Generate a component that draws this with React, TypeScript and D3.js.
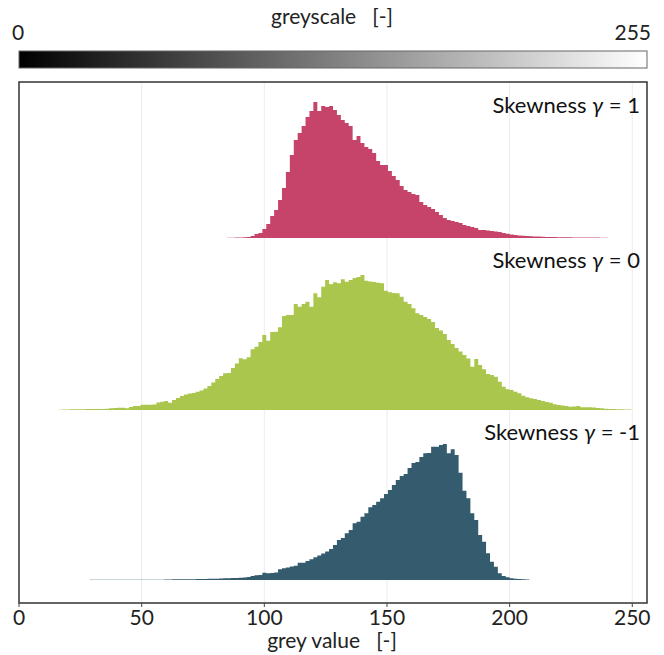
import React from 'react'
import * as d3 from 'd3'

// grey-value histograms for three skewness levels, bins of 1.6 grey values
const binWidth = 1.6
const xTicks = [0, 50, 100, 150, 200, 250]

const redStartBin = 53
const redCounts = [
  0.3, 0.3, 0.4, 0.5, 0.7, 1, 2, 4, 5, 9,
  14, 22, 28, 38, 50, 66, 83, 98, 105, 112,
  121, 127, 136, 127, 132, 131, 132, 128, 123, 118,
  115, 112, 98, 102, 95, 91, 89, 85, 77, 73,
  73, 67, 62, 58, 52, 48, 46, 44, 43, 36,
  33, 31, 29, 26, 23, 20, 18, 17, 16, 15,
  13, 12, 11, 10, 8, 8, 7.5, 7, 6.5, 6,
  5, 4.2, 3.5, 3, 2.6, 2.3, 2, 1.8, 1.6, 1.4,
  1.2, 1, 1, 0.9, 0.8, 0.8, 0.7, 0.7, 0.6, 0.6,
  0.5, 0.5, 0.5, 0.4, 0.4, 0.3, 0.3
]

const greenStartBin = 10
const greenCounts = [
  0.3, 0.5, 0.6, 0.7, 0.7, 0.7, 0.8, 0.9, 1, 1,
  1, 1, 1.2, 1.7, 1.9, 2.2, 2.3, 1.8, 3, 4,
  4, 5.3, 5.3, 5.3, 5.5, 7.5, 8.2, 9, 7.3, 10,
  12, 14, 15.5, 16.5, 17, 18.3, 19.5, 21.5, 24, 27.5,
  31, 34, 36.7, 37, 42, 46.5, 51.7, 50.7, 52.7, 60.7,
  63.3, 68, 75, 69.3, 78, 78.3, 82.7, 94, 95, 95,
  106, 103.3, 106, 108.3, 103.3, 116.7, 112.7, 123.3, 130, 125.7,
  127.7, 126.7, 130.7, 128.3, 130, 132, 133, 135, 129.3, 128.5,
  128, 127.3, 126.7, 119.3, 117.7, 117, 116.7, 113.3, 108.3, 106,
  101.7, 96.7, 95, 93, 91, 88, 82, 79.5, 76, 70,
  66, 62, 58.5, 55, 51.5, 43.3, 51, 45, 40.7, 36,
  35, 33.3, 28.3, 23.3, 20.7, 20, 18.3, 16.7, 14.3, 12.7,
  11.7, 11, 10, 9, 8, 7.3, 5.7, 5, 4.5, 4,
  3.3, 3.5, 4, 2.7, 2.7, 2.7, 2.5, 2, 1.7, 1.3,
  1, 0.9, 0.8, 0.7, 0.6, 0.5
]

const blueStartBin = 18
const blueCounts = [
  0.2, 0.2, 0.2, 0.2, 0.2, 0.25, 0.25, 0.25, 0.25, 0.3,
  0.3, 0.3, 0.3, 0.3, 0.3, 0.3, 0.3, 0.35, 0.35, 0.4,
  0.5, 0.7, 0.7, 0.7, 0.7, 0.7, 0.8, 0.9, 1, 1.1,
  1.2, 1.3, 1.3, 1.5, 1.7, 1.8, 1.9, 2, 2.2, 2.5,
  3, 4, 4.7, 5, 7.3, 6.7, 7, 7.5, 10.7, 11.7,
  12.5, 13.5, 14.3, 17.3, 17.3, 19, 20.7, 22.7, 24.5, 26.5,
  28.5, 31, 35, 40, 42, 46.7, 50, 56.7, 58.3, 63.3,
  66.7, 72.7, 75, 78.3, 81.7, 86, 90, 95, 100, 104,
  106, 112, 117, 118, 123, 126.7, 127, 133.3, 133.3, 135,
  136, 126.7, 130.7, 125, 107.3, 89.3, 81.7, 66.7, 60, 45,
  38.3, 26.7, 18.3, 13.3, 6.7, 4, 2.7, 1.8, 1.3, 0.9,
  0.7, 0.5
]

const skewLabels = ['1', '0', '-1']
const colors = ['#c6446a', '#aac64c', '#345b6e']

const W = 664
const H = 655
const plot = { left: 19, right: 647, top: 82, bottom: 603 }
const baselines = [238, 410, 580]
const labelY = [113, 268, 440]
const font = 'Lato, "Open Sans", sans-serif'

export default function App () {
  const series = [
    { start: redStartBin, counts: redCounts },
    { start: greenStartBin, counts: greenCounts },
    { start: blueStartBin, counts: blueCounts }
  ]

  const x = d3.scaleLinear().domain([0, 256]).range([plot.left, plot.right])
  const y = d3.scaleLinear().domain([0, 140]).range([0, 140])

  const paths = series.map((s, i) => {
    const pts = s.counts.map((c, j) => ({ v: (s.start + j) * binWidth, c }))
    pts.push({ v: (s.start + s.counts.length) * binWidth, c: s.counts[s.counts.length - 1] })
    const area = d3.area<{ v: number, c: number }>()
      .x(d => x(d.v))
      .y0(baselines[i])
      .y1(d => baselines[i] - y(d.c))
      .curve(d3.curveStepAfter)
    return area(pts)
  })

  return (
    <svg width={W} height={H} style={{ position: 'absolute', left: 0, top: 0, background: '#fff' }}
      fontFamily={font}>
      <defs>
        <linearGradient id='grey' x1='0' x2='1' y1='0' y2='0'>
          <stop offset='0' stopColor='#000' />
          <stop offset='1' stopColor='#fff' />
        </linearGradient>
      </defs>

      {/* colour bar */}
      <text x={332} y={24} textAnchor='middle' fontSize={21} fill='#222' style={{ whiteSpace: 'pre' }}>greyscale   [-]</text>
      <text x={12} y={40} fontSize={21} fill='#222'>0</text>
      <text x={651} y={40} textAnchor='end' fontSize={21} fill='#222'>255</text>
      <rect x={plot.left} y={51} width={plot.right - plot.left} height={17}
        fill='url(#grey)' stroke='#666' strokeWidth={1} />

      {/* grid */}
      {xTicks.filter(t => t > 0).map(t => (
        <line key={t} x1={x(t)} x2={x(t)} y1={plot.top} y2={plot.bottom}
          stroke='#ececec' strokeWidth={1} />
      ))}

      {paths.map((d, i) => (
        <path key={i} d={d || ''} fill={colors[i]} />
      ))}

      {skewLabels.map((s, i) => (
        <text key={s} x={640} y={labelY[i]} textAnchor='end' fontSize={22} fill='#111'>
          Skewness <tspan fontStyle='italic'>γ</tspan> = {s}
        </text>
      ))}

      {/* frame + axis */}
      <rect x={plot.left} y={plot.top} width={plot.right - plot.left} height={plot.bottom - plot.top}
        fill='none' stroke='#333' strokeWidth={1.5} />
      {xTicks.map(t => (
        <g key={t}>
          <line x1={x(t)} x2={x(t)} y1={plot.bottom} y2={plot.bottom + 4} stroke='#444' strokeWidth={1} />
          <text x={x(t)} y={625} textAnchor='middle' fontSize={21} fill='#222'>{t}</text>
        </g>
      ))}
      <text x={332} y={648} textAnchor='middle' fontSize={21} fill='#222' style={{ whiteSpace: 'pre' }}>grey value   [-]</text>
    </svg>
  )
}
